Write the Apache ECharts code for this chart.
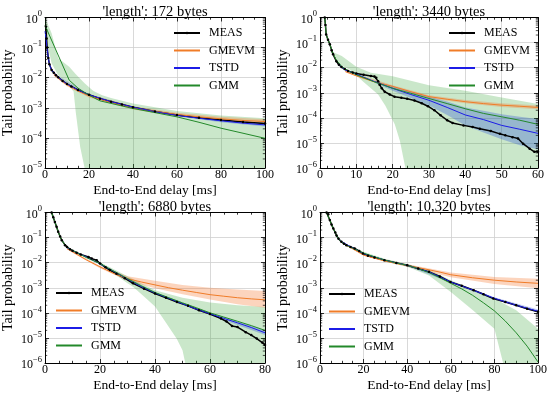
<!DOCTYPE html>
<html><head><meta charset="utf-8">
<script src="https://cdn.jsdelivr.net/npm/echarts@6/dist/echarts.min.js"></script>
<style>html,body{margin:0;padding:0;background:#fff}#c{width:550px;height:395px}</style>
</head><body><div id="c"></div><script>
// ---------- Panel titles / legend names ----------
const titles = ["'length': 172 bytes", "'length': 3440 bytes", "'length': 6880 bytes", "'length': 10,320 bytes"];
const legendNames = ['MEAS', 'GMEVM', 'TSTD', 'GMM'];
const xMaxes = [100, 60, 80, 100];
const xIntervals = [20, 10, 20, 20];
const yMins = [1e-5, 1e-6, 1e-6, 1e-6];

// ---------- 172 bytes ----------
const meas172 = [[0.4,0.5],[0.7,0.2],[1,0.1],[1.5,0.045],[2,0.028],[3,0.018],[4,0.0145],[5,0.012],[6,0.0103],[8,0.0078],[10,0.0062],[12,0.0051],[15,0.0039],[20,0.0027],[25,0.002],[30,0.0016],[35,0.00128],[40,0.00105],[50,0.00075],[60,0.00058],[70,0.00047],[80,0.00039],[90,0.00034],[100,0.0003]];
const gmevm172 = [[4,0.013],[6,0.0098],[8,0.0074],[10,0.0058],[15,0.0036],[20,0.0025],[30,0.0015],[40,0.001],[50,0.00076],[60,0.0006],[70,0.0005],[80,0.00043],[90,0.00038],[100,0.00035]];
const gmevm172Lo = [[4,0.0115],[10,0.0052],[20,0.0022],[40,0.00088],[60,0.00052],[80,0.00037],[100,0.00029]];
const gmevm172Hi = [[4,0.0145],[10,0.0064],[20,0.0028],[40,0.00113],[60,0.00069],[80,0.0005],[100,0.00042]];
const tstd172 = [[0,0.35],[0.5,0.2],[1,0.09],[1.5,0.045],[2,0.028],[3,0.018],[5,0.012],[8,0.0078],[10,0.0062],[15,0.0039],[20,0.0027],[30,0.0016],[40,0.00105],[50,0.00074],[60,0.00056],[70,0.00045],[80,0.00037],[90,0.00031],[100,0.00027]];
const tstd172Lo = [[5,0.0115],[20,0.0026],[40,0.001],[60,0.00052],[80,0.00033],[100,0.00024]];
const tstd172Hi = [[5,0.0125],[20,0.0028],[40,0.0011],[60,0.0006],[80,0.00041],[100,0.00031]];
const gmm172 = [[0,0.55],[11,0.0083],[15,0.0045],[20,0.0026],[25,0.0017],[30,0.0014],[40,0.00095],[50,0.00069],[60,0.0005],[70,0.00033],[80,0.00021],[90,0.000143],[100,0.000097]];
const gmm172Lo = [[0,0.3],[3,0.03],[6,0.012],[10,0.0065],[13,0.0035],[14,0.0007],[16,0.00005],[18,0.00001],[19,0.000002],[25,1e-8],[100,1e-8]];
const gmm172Hi = [[0,1],[3,0.3],[6,0.044],[11,0.023],[14,0.013],[18,0.0065],[22,0.0036],[26,0.0026],[30,0.0021],[40,0.0014],[60,0.00078],[80,0.00056],[100,0.00045]];

// ---------- 3440 bytes ----------
const meas3440 = [[1.3,1],[1.5,0.5],[1.7,0.21],[2.2,0.13],[2.7,0.086],[3.2,0.05],[3.6,0.034],[4.5,0.018],[5.2,0.013],[5.9,0.0106],[6.8,0.0088],[7.7,0.0074],[9,0.0064],[10,0.0058],[12,0.0052],[14,0.0047],[15,0.0044],[15.5,0.004],[16,0.0029],[16.4,0.0021],[17,0.0015],[17.8,0.0011],[19.2,0.00085],[20.5,0.0007],[22.4,0.00063],[24,0.00058],[26,0.00049],[28,0.00038],[29.7,0.00029],[31.5,0.0002],[33.2,0.000126],[35,0.00008],[36.5,0.000062],[39.5,0.00005],[42,0.000043],[44,0.000037],[47,0.00003],[49.5,0.000023],[51,0.00002],[53,0.000017],[54.5,0.000015],[55.9,0.0000093],[57.7,0.0000059],[59,0.0000044],[60,0.0000044]];
const gmevm3440 = [[7,0.007],[10,0.0047],[15,0.0027],[20,0.0018],[25,0.0011],[30,0.0007],[35,0.00055],[40,0.00044],[45,0.00037],[50,0.00032],[55,0.00029],[60,0.00026]];
const gmevm3440Lo = [[7,0.0064],[20,0.0016],[30,0.00061],[40,0.00038],[50,0.00027],[60,0.00022]];
const gmevm3440Hi = [[7,0.0077],[20,0.002],[30,0.0008],[40,0.00051],[50,0.00038],[60,0.00031]];
const tstd3440 = [[5,0.014],[7,0.008],[10,0.0055],[12,0.0042],[15,0.0028],[20,0.0015],[25,0.00085],[30,0.0005],[35,0.00026],[40,0.00013],[45,0.000085],[50,0.00005],[55,0.000035],[60,0.000024]];
const tstd3440Lo = [[15,0.0025],[20,0.0012],[25,0.00062],[30,0.00031],[35,0.00013],[40,0.00005],[45,0.000026],[50,0.000014],[55,0.000008],[60,0.0000055]];
const tstd3440Hi = [[15,0.003],[20,0.0018],[25,0.0011],[30,0.0007],[35,0.00045],[40,0.00026],[45,0.00019],[50,0.00014],[55,0.00011],[60,0.00009]];
const gmm3440 = [[1.3,1],[1.5,0.5],[1.7,0.21],[2.2,0.13],[2.7,0.086],[3.6,0.036],[4.5,0.02],[6,0.011],[8,0.0072],[10,0.0052],[15,0.0027],[20,0.0015],[25,0.00095],[30,0.00059],[35,0.00037],[40,0.00023],[45,0.00015],[50,0.00011],[55,0.00008],[60,0.000055]];
const gmm3440Lo = [[3,0.04],[5,0.014],[8.2,0.0085],[12,0.0027],[16,0.00085],[18,0.0003],[20.6,0.000054],[22,0.000012],[23.5,0.000001],[25,1e-8],[60,1e-8]];
const gmm3440Hi = [[3,0.045],[6,0.029],[10,0.011],[14,0.0062],[20,0.0046],[30,0.002],[40,0.0012],[50,0.00065],[60,0.00036]];

// ---------- 6880 bytes ----------
const meas6880 = [[2.4,1],[3,0.65],[3.6,0.42],[4.2,0.27],[4.8,0.17],[5.5,0.11],[6.1,0.079],[7.3,0.05],[8,0.042],[9.1,0.034],[10,0.03],[11.5,0.025],[13,0.021],[15.8,0.017],[17,0.0145],[18.8,0.0125],[20,0.0093],[22,0.0065],[23.6,0.0051],[26,0.0036],[29,0.0024],[32,0.0015],[36,0.00092],[40,0.00059],[44,0.0004],[48,0.00027],[52,0.00019],[56,0.000126],[60,0.00009],[64,0.000059],[66,0.000045],[68,0.00003],[70,0.000027],[73,0.000017],[75,0.000013],[77,0.0000094],[79,0.0000065],[80,0.0000052]];
const gmevm6880 = [[8,0.036],[10,0.027],[15,0.013],[20,0.0068],[25,0.0037],[30,0.0023],[35,0.0017],[40,0.0013],[45,0.001],[50,0.0008],[55,0.00065],[60,0.00053],[65,0.00046],[70,0.0004],[75,0.00036],[80,0.00033]];
const gmevm6880Lo = [[8,0.034],[10,0.025],[20,0.006],[30,0.0019],[40,0.00095],[50,0.00055],[60,0.00034],[70,0.00022],[80,0.00016]];
const gmevm6880Hi = [[8,0.038],[10,0.029],[20,0.0076],[30,0.0029],[40,0.0019],[50,0.0013],[60,0.001],[70,0.00085],[80,0.00075]];
const tstd6880 = [[8,0.04],[10,0.03],[15,0.017],[20,0.009],[25,0.0045],[30,0.0022],[35,0.0011],[40,0.00062],[45,0.00038],[50,0.00023],[55,0.00014],[60,0.000092],[65,0.00006],[70,0.00004],[75,0.000026],[80,0.000016]];
const tstd6880Lo = [[20,0.0085],[40,0.00058],[60,0.000082],[80,0.000013]];
const tstd6880Hi = [[20,0.0095],[40,0.00066],[60,0.0001],[80,0.00002]];
const gmm6880 = [[2.4,1],[3,0.65],[3.6,0.42],[4.2,0.27],[4.8,0.17],[5.5,0.11],[6.1,0.079],[7.3,0.05],[9,0.035],[12,0.024],[15,0.016],[20,0.0092],[25,0.0046],[30,0.0023],[35,0.0012],[40,0.00065],[45,0.0004],[50,0.00025],[55,0.00016],[60,0.0001],[65,0.000068],[70,0.000046],[75,0.000031],[80,0.00002]];
const gmm6880Lo = [[10,0.029],[20,0.0085],[25,0.0037],[30,0.0015],[32,0.0011],[36,0.00045],[40,0.00018],[44,0.00004],[47.9,0.0000093],[50,0.0000032],[51,0.000001],[53,1e-8],[80,1e-8]];
const gmm6880Hi = [[10,0.031],[20,0.0105],[30,0.0029],[40,0.0008],[50,0.0004],[60,0.00026],[70,0.0002],[80,0.00017]];

// ---------- 10,320 bytes ----------
const meas10320 = [[3,1],[3.8,0.85],[4.5,0.5],[5.3,0.33],[6.1,0.23],[7,0.16],[7.6,0.12],[8.5,0.09],[9.8,0.068],[11,0.057],[12.1,0.05],[14,0.042],[15.9,0.037],[18,0.029],[19.7,0.023],[22,0.019],[25,0.016],[29.5,0.0126],[35,0.0098],[40,0.0079],[45,0.0059],[50,0.0043],[55,0.0028],[59.8,0.0017],[65,0.0012],[70.5,0.0008],[75,0.00055],[79.5,0.00037],[85,0.00027],[90,0.0002],[95,0.000145],[100,0.00011]];
const gmevm10320 = [[12,0.05],[15,0.036],[20,0.02],[25,0.015],[30,0.0115],[35,0.0093],[40,0.0077],[45,0.0063],[50,0.0052],[55,0.0042],[60,0.0033],[70,0.0025],[80,0.002],[90,0.0017],[100,0.0015]];
const gmevm10320Lo = [[12,0.047],[20,0.019],[40,0.0068],[60,0.0026],[80,0.0014],[100,0.00095]];
const gmevm10320Hi = [[12,0.053],[20,0.021],[40,0.0087],[60,0.0041],[80,0.0027],[100,0.0023]];
const tstd10320 = [[8,0.1],[10,0.068],[15,0.039],[20,0.023],[30,0.0125],[40,0.0078],[50,0.0043],[60,0.0017],[70,0.00082],[80,0.00038],[90,0.0002],[100,0.000115]];
const tstd10320Lo = [[40,0.0074],[60,0.0016],[80,0.00034],[100,0.0001]];
const tstd10320Hi = [[40,0.0082],[60,0.0018],[80,0.00042],[100,0.000135]];
const gmm10320 = [[3,1],[4.5,0.5],[5.3,0.33],[6.1,0.23],[7,0.16],[7.6,0.12],[8.5,0.09],[9.8,0.068],[12,0.05],[15,0.038],[20,0.024],[25,0.017],[30,0.0125],[35,0.0098],[40,0.0078],[45,0.0058],[50,0.004],[55,0.0025],[60,0.0015],[65,0.0009],[70,0.0005],[75,0.00025],[80,0.00012],[85,0.000047],[90,0.000016],[95,0.0000047],[100,0.0000011]];
const gmm10320Lo = [[15,0.034],[20,0.021],[30,0.011],[40,0.0069],[50,0.0031],[60,0.00068],[70,0.00013],[80,0.000023],[84,0.000001],[86,1e-8],[100,1e-8]];
const gmm10320Hi = [[15,0.042],[20,0.027],[30,0.014],[40,0.0088],[50,0.0052],[60,0.002],[70,0.00085],[80,0.00037],[90,0.000126],[100,0.000023]];

// ---------- assembly ----------
const SERIF = '"Liberation Serif","DejaVu Serif","Times New Roman",serif';
const C = {meas:'#000000', gmevm:'#f07c28', tstd:'#1c1ce6', gmm:'#23892a'};
const F = {gmevm:'rgba(245,120,50,0.32)', tstd:'rgba(20,60,220,0.28)', gmm:'rgba(44,160,44,0.25)'};

const panels = [
  {grid:{left:45,top:17.5,width:220,height:150.5}, legend:{left:167,top:24}, minor:4,
   meas:meas172, gmevm:gmevm172, gmevmLo:gmevm172Lo, gmevmHi:gmevm172Hi, tstd:tstd172, tstdLo:tstd172Lo, tstdHi:tstd172Hi, gmm:gmm172, gmmLo:gmm172Lo, gmmHi:gmm172Hi},
  {grid:{left:320,top:17.5,width:218,height:150.5}, legend:{left:442,top:24}, minor:5,
   meas:meas3440, gmevm:gmevm3440, gmevmLo:gmevm3440Lo, gmevmHi:gmevm3440Hi, tstd:tstd3440, tstdLo:tstd3440Lo, tstdHi:tstd3440Hi, gmm:gmm3440, gmmLo:gmm3440Lo, gmmHi:gmm3440Hi},
  {grid:{left:45,top:212.5,width:220,height:150.5}, legend:{left:49,top:284}, minor:4,
   meas:meas6880, gmevm:gmevm6880, gmevmLo:gmevm6880Lo, gmevmHi:gmevm6880Hi, tstd:tstd6880, tstdLo:tstd6880Lo, tstdHi:tstd6880Hi, gmm:gmm6880, gmmLo:gmm6880Lo, gmmHi:gmm6880Hi},
  {grid:{left:320,top:212.5,width:218,height:150.5}, legend:{left:322,top:285}, minor:4,
   meas:meas10320, gmevm:gmevm10320, gmevmLo:gmevm10320Lo, gmevmHi:gmevm10320Hi, tstd:tstd10320, tstdLo:tstd10320Lo, tstdHi:tstd10320Hi, gmm:gmm10320, gmmLo:gmm10320Lo, gmmHi:gmm10320Hi}
];

function supLabel(v){
  const e = Math.round(Math.log10(v));
  return '{b|10}{s|' + (e < 0 ? '\u2212' + (-e) : String(e)) + '}';
}
const tickStyle = {color:'#000', width:0.8};
function bandSeries(i, lo, hi, fill){
  return {type:'custom', xAxisIndex:2*i, yAxisIndex:2*i, z:1, silent:true, data:[[hi[0][0], hi[0][1]]],
    renderItem:function(params, api){
      if (params.dataIndex !== 0) return;
      const cs = params.coordSys;
      const pts = hi.map(p => api.coord(p)).concat(lo.slice().reverse().map(p => api.coord(p)));
      return {type:'group', clipPath:{type:'rect', shape:{x:cs.x, y:cs.y, width:cs.width, height:cs.height}},
        children:[{type:'polygon', shape:{points:pts}, style:{fill:fill}}]};
    }};
}
function minorLogTicks(i){
  const lowExp = Math.round(Math.log10(yMins[i]));
  return {type:'custom', xAxisIndex:2*i, yAxisIndex:2*i, z:5, silent:true, data:[[xMaxes[i]/2, 0.1]],
    renderItem:function(params, api){
      const cs = params.coordSys; const kids = [];
      for (let e = lowExp; e < 0; e++) for (let k = 2; k <= 9; k++){
        const y = api.coord([0, k*Math.pow(10,e)])[1];
        kids.push({type:'line', shape:{x1:cs.x, y1:y, x2:cs.x+2.2, y2:y}, style:{stroke:'#000', lineWidth:0.7}});
        kids.push({type:'line', shape:{x1:cs.x+cs.width-2.2, y1:y, x2:cs.x+cs.width, y2:y}, style:{stroke:'#000', lineWidth:0.7}});
      }
      return {type:'group', children:kids};
    }};
}

const option = {animation:false, backgroundColor:'#fff', grid:[], xAxis:[], yAxis:[], series:[], legend:[], title:[]};
panels.forEach((p, i) => {
  option.grid.push({left:p.grid.left, top:p.grid.top, width:p.grid.width, height:p.grid.height});
  const xBase = {type:'value', gridIndex:i, min:0, max:xMaxes[i], interval:xIntervals[i],
    axisLine:{show:true, onZero:false, lineStyle:{color:'#000', width:1}},
    axisTick:{show:true, inside:true, length:4, lineStyle:tickStyle},
    minorTick:{show:true, splitNumber:p.minor, length:2.2, lineStyle:tickStyle}};
  option.xAxis.push(Object.assign({}, xBase, {position:'bottom',
    axisLabel:{color:'#000', fontFamily:SERIF, fontSize:12, margin:1},
    splitLine:{show:true, lineStyle:{color:'#cfcfcf', width:0.8}},
    name:'End-to-End delay [ms]', nameLocation:'middle', nameGap:15,
    nameTextStyle:{color:'#000', fontFamily:SERIF, fontSize:13.5}}));
  option.xAxis.push(Object.assign({}, xBase, {position:'top', axisLabel:{show:false}, splitLine:{show:false}}));
  const yBase = {type:'log', logBase:10, gridIndex:i, min:yMins[i], max:1,
    axisLine:{show:true, onZero:false, lineStyle:{color:'#000', width:1}},
    axisTick:{show:true, inside:true, length:4, lineStyle:tickStyle}};
  option.yAxis.push(Object.assign({}, yBase, {position:'left',
    axisLabel:{formatter:supLabel, margin:3, rich:{
      b:{fontFamily:SERIF, fontSize:12, color:'#000', verticalAlign:'bottom', lineHeight:16},
      s:{fontFamily:SERIF, fontSize:8.5, color:'#000', verticalAlign:'top', lineHeight:10}}},
    splitLine:{show:true, lineStyle:{color:'#cfcfcf', width:0.8}},
    name:'Tail probability', nameLocation:'middle', nameGap:30, nameRotate:90,
    nameTextStyle:{color:'#000', fontFamily:SERIF, fontSize:14}}));
  option.yAxis.push(Object.assign({}, yBase, {position:'right', axisLabel:{show:false}, splitLine:{show:false}}));

  option.series.push(bandSeries(i, p.gmmLo, p.gmmHi, F.gmm));
  option.series.push(bandSeries(i, p.gmevmLo, p.gmevmHi, F.gmevm));
  option.series.push(bandSeries(i, p.tstdLo, p.tstdHi, F.tstd));
  const lineBase = {type:'line', xAxisIndex:2*i, yAxisIndex:2*i, z:3, smooth:false, silent:true, clip:true};
  option.series.push(Object.assign({}, lineBase, {name:'MEAS', data:p.meas, symbol:'circle', symbolSize:2.5, showSymbol:true, showAllSymbol:true,
    lineStyle:{color:C.meas, width:1.5}, itemStyle:{color:C.meas}}));
  option.series.push(Object.assign({}, lineBase, {name:'GMEVM', data:p.gmevm, symbol:'none', lineStyle:{color:C.gmevm, width:1}, itemStyle:{color:C.gmevm}}));
  option.series.push(Object.assign({}, lineBase, {name:'TSTD', data:p.tstd, symbol:'none', lineStyle:{color:C.tstd, width:1}, itemStyle:{color:C.tstd}}));
  option.series.push(Object.assign({}, lineBase, {name:'GMM', data:p.gmm, symbol:'none', lineStyle:{color:C.gmm, width:1}, itemStyle:{color:C.gmm}}));
  option.series.push(minorLogTicks(i));

  option.legend.push({orient:'vertical', left:p.legend.left, top:p.legend.top,
    data:legendNames.map((n, k) => k === 0 ? {name:n} : {name:n, itemStyle:{opacity:0}}), selectedMode:false,
    itemWidth:26, itemHeight:3, itemGap:5.5, padding:[3,6,3,6],
    textStyle:{fontFamily:SERIF, fontSize:12, color:'#000', padding:[0,0,0,4]}});
  option.title.push({text:titles[i], left:p.grid.left + p.grid.width/2, textAlign:'center', top:(i < 2 ? 4.5 : 199.5), padding:0,
    textStyle:{fontFamily:SERIF, fontSize:14.5, fontWeight:'normal', color:'#000'}});
});

const chart = echarts.init(document.getElementById('c'), null, {renderer:'canvas'});
chart.setOption(option);
</script></body></html>
